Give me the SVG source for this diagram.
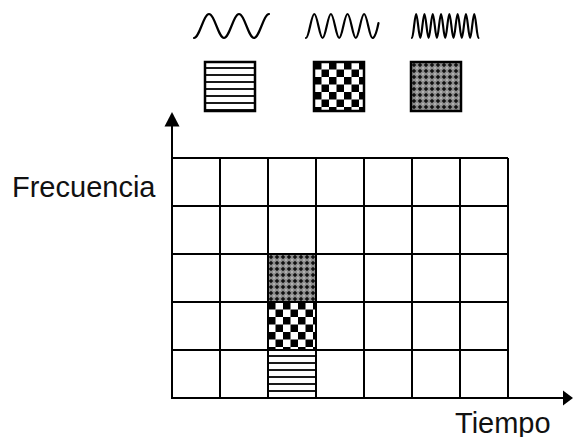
<svg xmlns="http://www.w3.org/2000/svg" width="574" height="437" viewBox="0 0 574 437">
  <style>
    .cell { fill: none; stroke: #000; stroke-width: 2; }
    .grid { stroke: #000; stroke-width: 2; fill: none; }
    .axis { stroke: #000; stroke-width: 2; fill: none; }
    .head { fill: #000; }
    .wave { fill: none; stroke: #000; stroke-width: 2.2; stroke-linecap: round; stroke-linejoin: round; }
    .swatch { stroke: #000; stroke-width: 2.5; }
    .label { font-family: "Liberation Sans", Arial, sans-serif; font-size: 29px; fill: #111; }
  </style>
  <defs>
    <!-- low frequency: horizontal stripes -->
    <pattern id="stripes" width="8" height="7" patternUnits="userSpaceOnUse">
      <rect width="8" height="7" fill="#fff"/>
      <rect y="5" width="8" height="2" fill="#1a1a1a"/>
    </pattern>
    <!-- mid frequency: checkerboard -->
    <pattern id="checker" width="15" height="15" patternUnits="userSpaceOnUse">
      <rect width="15" height="15" fill="#fff"/>
      <rect width="7.5" height="7.5" fill="#000"/>
      <rect x="7.5" y="7.5" width="7.5" height="7.5" fill="#000"/>
    </pattern>
    <!-- high frequency: dense lattice -->
    <pattern id="lattice" width="6" height="6" patternUnits="userSpaceOnUse">
      <rect width="6" height="6" fill="#8f8f8f"/>
      <path d="M3,0.7 L5.3,3 L3,5.3 L0.7,3Z" fill="#111"/>
      <circle cx="0" cy="0" r="0.8" fill="#d8d8d8"/>
      <circle cx="6" cy="0" r="0.8" fill="#d8d8d8"/>
      <circle cx="0" cy="6" r="0.8" fill="#d8d8d8"/>
      <circle cx="6" cy="6" r="0.8" fill="#d8d8d8"/>
    </pattern>
  </defs>

  <rect width="574" height="437" fill="#fff"/>

  <!-- legend: waves and their fill patterns -->
  <g id="legend-low">
    <path class="wave" d="M194,38 C199.46,38 203.54,14 209,14 S218.54,38 224,38 S233.54,14 239,14 S248.54,38 254,38 S263.54,14 269,14"/>
    <g transform="translate(205,62)"><rect class="swatch" width="50" height="49" fill="url(#stripes)"/></g>
  </g>
  <g id="legend-mid">
    <path class="wave" d="M306,38 C309.02,38 311.28,14 314.3,14 S319.58,38 322.6,38 S327.88,14 330.9,14 S336.18,38 339.2,38 S344.48,14 347.5,14 S352.78,38 355.8,38 S361.08,14 364.1,14 S369.38,38 372.4,38 C375.42,38 377.3,29 378.5,23"/>
    <g transform="translate(314,62)"><rect class="swatch" width="50" height="49" fill="url(#checker)"/></g>
  </g>
  <g id="legend-high">
    <path class="wave" d="M412,38 C413.51,38 414.64,14 416.15,14 S418.79,38 420.3,38 S422.94,14 424.45,14 S427.09,38 428.6,38 S431.24,14 432.75,14 S435.39,38 436.9,38 S439.54,14 441.05,14 S443.69,38 445.2,38 S447.84,14 449.35,14 S451.99,38 453.5,38 S456.14,14 457.65,14 S460.29,38 461.8,38 S464.44,14 465.95,14 S468.59,38 470.1,38 S472.74,14 474.25,14 S476.89,38 478.4,38"/>
    <g transform="translate(411,62)"><rect class="swatch" width="50" height="49" fill="url(#lattice)"/></g>
  </g>

  <!-- occupied time-frequency cells -->
  <g id="cell-high"><g transform="translate(268,254)"><rect width="48" height="48" fill="url(#lattice)"/></g></g>
  <g id="cell-mid"><g transform="translate(268,302)"><rect width="48" height="48" fill="url(#checker)"/></g></g>
  <g id="cell-low"><g transform="translate(268,350)"><rect width="48" height="48" fill="url(#stripes)"/></g></g>

  <!-- 7 x 5 grid -->
  <g id="grid" class="grid">
    <path d="M172,158 H508 M172,206 H508 M172,254 H508 M172,302 H508 M172,350 H508"/>
    <path d="M220,158 V398 M268,158 V398 M316,158 V398 M364,158 V398 M412,158 V398 M460,158 V398 M508,158 V398"/>
  </g>

  <!-- axes -->
  <g id="connectors">
    <path class="axis" d="M172,399 V124"/>
    <path class="head" d="M172,112 L179.5,126.5 L164.5,126.5Z"/>
    <path class="axis" d="M171,398 H565"/>
    <path class="head" d="M573,398 L563,390.5 L563,405.5Z"/>
  </g>

  <g id="label-freq"><text class="label" x="12" y="197">Frecuencia</text></g>
  <g id="label-time"><text class="label" x="455" y="433">Tiempo</text></g>
</svg>
